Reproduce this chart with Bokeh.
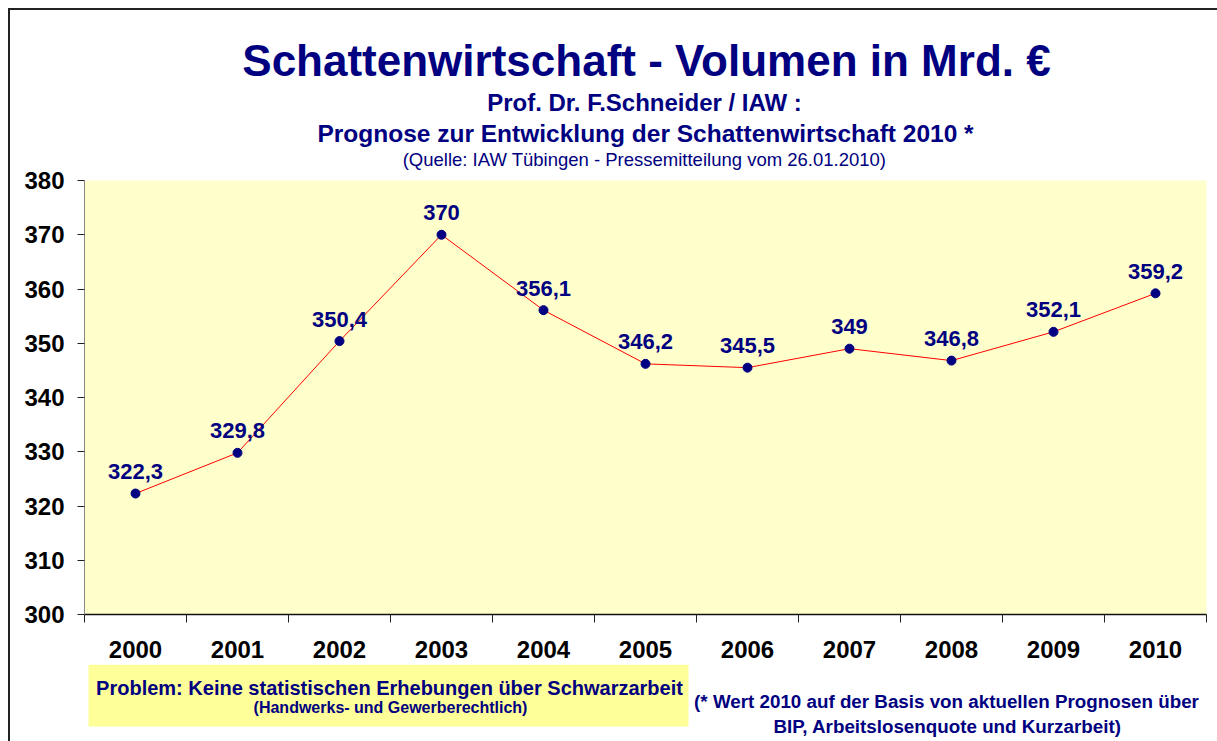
from bokeh.plotting import figure
from bokeh.layouts import column
from bokeh.models import Range1d, FixedTicker
from bokeh.core.properties import value
from bokeh.embed import file_html
from bokeh.resources import INLINE

years = [2000, 2001, 2002, 2003, 2004, 2005, 2006, 2007, 2008, 2009, 2010]
volume = [322.3, 329.8, 350.4, 370.0, 356.1, 346.2, 345.5, 349.0, 346.8, 352.1, 359.2]
y_ticks = [300, 310, 320, 330, 340, 350, 360, 370, 380]

title_text = "Schattenwirtschaft - Volumen in Mrd. €"
sub1_text = "Prof. Dr. F.Schneider / IAW :"
sub2_text = "Prognose zur Entwicklung der Schattenwirtschaft 2010 *"
source_text = "(Quelle: IAW Tübingen - Pressemitteilung vom 26.01.2010)"
box_line1 = "Problem: Keine statistischen Erhebungen über Schwarzarbeit"
box_line2 = "(Handwerks- und Gewerberechtlich)"
note_line1 = "(* Wert 2010 auf der Basis von aktuellen Prognosen über"
note_line2 = "BIP, Arbeitslosenquote und Kurzarbeit)"

labels = [("%g" % v).replace(".", ",") for v in volume]

NAVY = "#000080"
FONT = "Liberation Sans"
W = 1207  # canvas width (page x 10 .. 1217)


def blank(height, y0, y1):
    # column layout aligns frames with the main chart's frame (page x 84..1206)
    f = figure(width=W, height=height, output_backend="svg", toolbar_location=None,
               x_range=Range1d(84, 1206), y_range=Range1d(y1, y0),
               x_axis_location=None, y_axis_location=None,
               min_border=0, outline_line_color=None)
    f.xgrid.grid_line_color = None
    f.ygrid.grid_line_color = None
    f.background_fill_color = "white"
    f.border_fill_color = "white"
    return f


def txt(f, x, y, s, size, style="bold", color=NAVY):
    f.text(x=[x], y=[y], text=[s], text_align="center", text_baseline="middle",
           text_font=value(FONT), text_font_style=style, text_font_size=size,
           text_color=color)


# ---- header (page y 10 .. 180)
head = blank(170, 10, 180)
txt(head, 646, 60, title_text, "44px")
txt(head, 644, 102, sub1_text, "24px")
txt(head, 645, 133, sub2_text, "24.5px")
txt(head, 644, 159, source_text, "18.5px", style="normal")

# ---- main chart (overlaps header by 14px; frame 84..1206 x 180..614)
p = figure(width=W, height=498, output_backend="svg", toolbar_location=None,
           x_range=Range1d(years[0] - 0.5, years[-1] + 0.5),
           y_range=Range1d(300, 380),
           min_border_left=74, min_border_top=14, min_border_right=11,
           min_border_bottom=50)
p.styles = {"margin-top": "-14px"}
p.background_fill_color = "#FFFFCC"
p.border_fill_color = "white"
p.border_fill_alpha = 0
p.outline_line_color = None
p.xgrid.grid_line_color = None
p.ygrid.grid_line_color = None

xa = p.xaxis[0]
xa.ticker = FixedTicker(ticks=years, minor_ticks=[y - 0.5 for y in years] + [years[-1] + 0.5])
xa.major_label_overrides = {y: str(y) for y in years}
xa.major_tick_out = 0
xa.major_tick_in = 0
xa.minor_tick_out = 8
xa.minor_tick_in = 0
xa.minor_tick_line_color = "#222222"
xa.axis_line_color = "#111111"
xa.axis_line_width = 1.5
xa.major_label_text_font = FONT
xa.major_label_text_font_style = "bold"
xa.major_label_text_font_size = "24px"
xa.major_label_text_color = "black"
xa.major_label_standoff = 18

ya = p.yaxis[0]
ya.ticker = FixedTicker(ticks=y_ticks)
ya.major_tick_out = 7
ya.major_tick_in = 0
ya.minor_tick_line_color = None
ya.major_tick_line_color = "#222222"
ya.axis_line_color = "#888888"
ya.major_label_text_font = FONT
ya.major_label_text_font_style = "bold"
ya.major_label_text_font_size = "24px"
ya.major_label_text_color = "black"
ya.major_label_standoff = 13

p.line(years, volume, line_color="red", line_width=1)
p.scatter(years, volume, size=9, fill_color=NAVY, line_color=NAVY)
p.text(x=years, y=volume, text=labels, text_align="center", text_baseline="middle",
       y_offset=-22, text_font=value(FONT), text_font_style="bold",
       text_font_size="22px", text_color=NAVY)

# ---- footer (page y 664 .. 741)
foot = blank(77, 664, 741)
foot.quad(left=[88], right=[688], top=[664], bottom=[726],
          fill_color="#FFFF99", line_color=None)
txt(foot, 389, 687, box_line1, "20px")
txt(foot, 390, 707, box_line2, "16px")
txt(foot, 946, 701, note_line1, "18.8px")
txt(foot, 947, 726, note_line2, "18.8px")

layout = column(head, p, foot, spacing=0)
layout.styles = {"margin-left": "8px", "margin-top": "8px",
                 "border-left": "2px solid #222", "border-top": "2px solid #222"}

open("out.html", "w").write(file_html(layout, INLINE))
